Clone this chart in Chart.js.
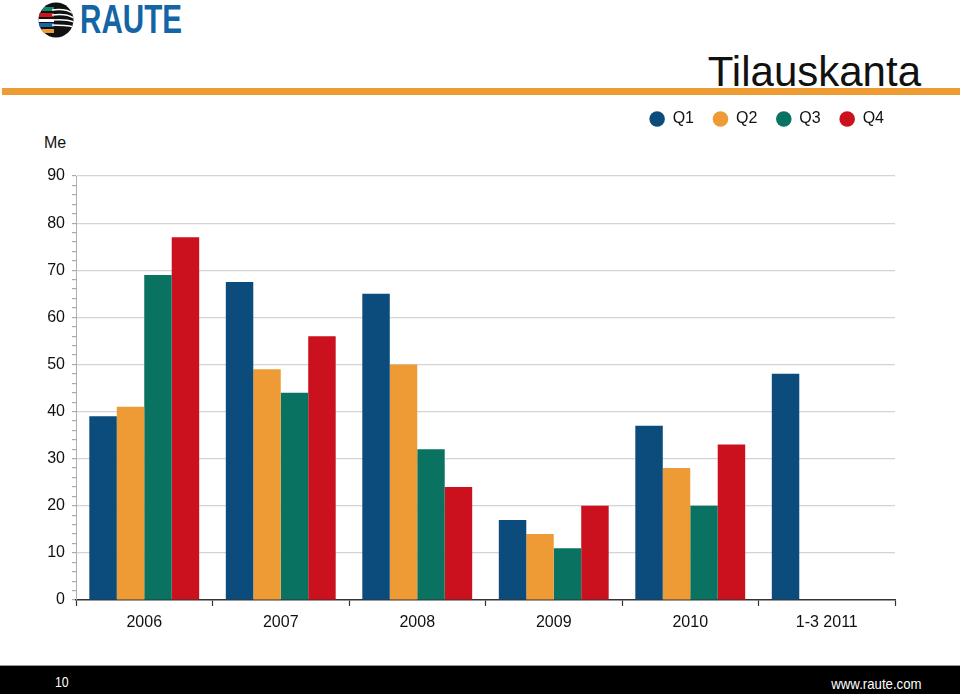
<!DOCTYPE html>
<html>
<head>
<meta charset="utf-8">
<script src="https://cdn.jsdelivr.net/npm/chart.js@4.4.1/dist/chart.umd.min.js"></script>
<style>
  html, body { margin: 0; padding: 0; background: #fff; }
  body { width: 960px; height: 694px; position: relative; overflow: hidden; font-family: "Liberation Sans", Arial, sans-serif; }
  #logo { position: absolute; left: 38px; top: 2px; width: 36px; height: 36px; }
  #brand { position: absolute; left: 80px; top: -3px; font-weight: bold; font-size: 40px; color: #1465A6; transform: scaleX(0.74); transform-origin: 0 0; }
  #title { position: absolute; right: 39px; top: 47px; font-size: 42px; color: #111; line-height: 50px; }
  #rule { position: absolute; left: 2px; top: 88px; width: 958px; height: 7px; background: #EE9B33; }
  #me { position: absolute; left: 44px; top: 134px; font-size: 16px; color: #111; }
  #wrap { position: absolute; left: 0; top: 92px; width: 960px; height: 570px; }
  #footer { position: absolute; left: 0; top: 665px; width: 960px; height: 29px; background: #000; border-top: 1px solid #999; color: #fff; font-size: 15px; }
  #pg { position: absolute; left: 55px; top: 7px; transform: scaleX(0.82); transform-origin: 0 0; }
  #url { position: absolute; right: 38px; top: 9px; transform: scaleX(0.88); transform-origin: 100% 0; }
</style>
</head>
<body>
<svg id="logo" viewBox="0 0 36 36">
  <defs><clipPath id="cc"><circle cx="18" cy="18" r="17.5"/></clipPath></defs>
  <circle cx="18" cy="18" r="17.5" fill="#111"/>
  <g clip-path="url(#cc)">
    <rect x="0" y="5" width="16" height="4" fill="#0E8A6E"/>
    <rect x="0" y="11" width="16" height="4" fill="#D0141E"/>
    <rect x="0" y="17" width="16" height="3" fill="#fff"/>
    <rect x="0" y="21" width="16" height="4" fill="#1465A6"/>
    <rect x="0" y="27" width="16" height="4" fill="#EE9B33"/>
    <path d="M14 8 Q28 6 36 12" stroke="#fff" stroke-width="1.6" fill="none"/>
    <path d="M14 13 Q28 11 36 16" stroke="#fff" stroke-width="1.6" fill="none"/>
    <path d="M14 18 Q28 17 36 20" stroke="#fff" stroke-width="1.6" fill="none"/>
    <path d="M14 23 Q28 23 36 25" stroke="#fff" stroke-width="1.6" fill="none"/>
  </g>
</svg>
<div id="brand">RAUTE</div>
<div id="title">Tilauskanta</div>
<div id="rule"></div>
<div id="me">Me</div>
<div id="wrap"><canvas id="c"></canvas></div>
<div id="footer"><span id="pg">10</span><span id="url">www.raute.com</span></div>
<script>
const categories = ["2006", "2007", "2008", "2009", "2010", "1-3 2011"];
const seriesNames = ["Q1", "Q2", "Q3", "Q4"];
const q1 = [39, 67.5, 65, 17, 37, 48];
const q2 = [41, 49, 50, 14, 28, null];
const q3 = [69, 44, 32, 11, 20, null];
const q4 = [77, 56, 24, 20, 33, null];
const yMin = 0, yMax = 90, yMajor = 10, yMinor = 2;

const colors = ["#0B4C7C", "#EE9B35", "#0A7260", "#CB111E"];
const values = [q1, q2, q3, q4];

const legendSpace = {
  id: 'legendSpace',
  beforeInit(chart) {
    const origFit = chart.legend.fit;
    chart.legend.fit = function () {
      origFit.bind(chart.legend)();
      this.height += 39;
    };
  },
  afterLayout(chart) {
    chart.legend.left += 8;
    chart.legend.right += 8;
  }
};

new Chart(document.getElementById('c'), {
  type: 'bar',
  data: {
    labels: categories,
    datasets: seriesNames.map((n, i) => ({
      label: n,
      data: values[i],
      backgroundColor: colors[i],
      borderWidth: 0,
      categoryPercentage: 0.805,
      barPercentage: 1
    }))
  },
  options: {
    responsive: true,
    maintainAspectRatio: false,
    animation: false,
    layout: { padding: { left: 0, right: 65, top: 0, bottom: 22 } },
    plugins: {
      legend: {
        position: 'top',
        align: 'end',
        labels: {
          usePointStyle: true,
          pointStyle: 'circle',
          boxWidth: 15,
          boxHeight: 11,
          padding: 19,
          color: '#111',
          font: { family: '"Liberation Sans", Arial, sans-serif', size: 16 }
        }
      },
      tooltip: { enabled: false }
    },
    scales: {
      x: {
        grid: {
          offset: true,
          drawOnChartArea: false,
          drawTicks: true,
          tickLength: 6,
          tickColor: '#333',
          tickWidth: 1.2
        },
        border: { color: '#333', width: 1.5 },
        ticks: {
          color: '#111',
          padding: 7,
          font: { family: '"Liberation Sans", Arial, sans-serif', size: 16 }
        },
        afterFit(s) { s.height = 40; }
      },
      y: {
        min: yMin,
        max: yMax,
        grid: {
          color: ctx => (ctx.tick && ctx.tick.value % yMajor === 0 && ctx.tick.value > 0) ? '#d4d4d4' : 'rgba(0,0,0,0)',
          lineWidth: 1.2,
          tickColor: '#aaa',
          tickLength: 4,
          drawTicks: true
        },
        border: { color: '#b0b0b0', width: 1 },
        ticks: {
          stepSize: yMinor,
          autoSkip: false,
          padding: 7,
          color: '#111',
          font: { family: '"Liberation Sans", Arial, sans-serif', size: 16 },
          callback: v => (v % yMajor === 0 ? v : '')
        },
        afterFit(s) { s.width = 76; }
      }
    }
  },
  plugins: [legendSpace]
});
</script>
</body>
</html>
